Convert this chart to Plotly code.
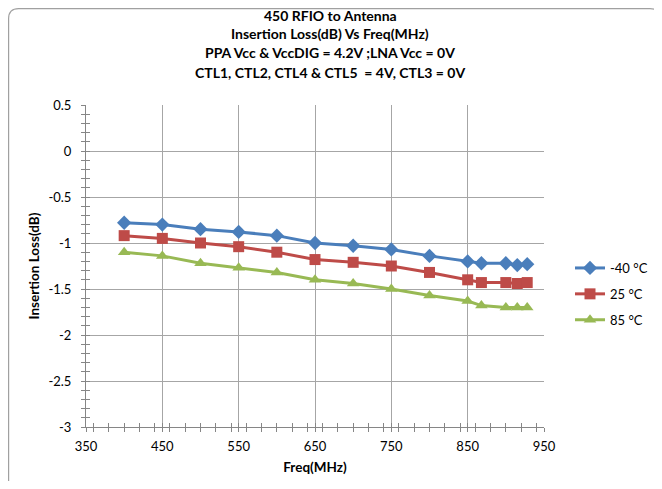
import plotly.graph_objects as go

freq = [400, 450, 500, 550, 600, 650, 700, 750, 800, 850, 868, 900, 915, 928]
loss_m40 = [-0.78, -0.80, -0.85, -0.88, -0.92, -1.00, -1.03, -1.07, -1.14, -1.20, -1.22, -1.22, -1.24, -1.23]
loss_25 = [-0.92, -0.95, -1.00, -1.04, -1.10, -1.18, -1.21, -1.25, -1.32, -1.40, -1.43, -1.43, -1.44, -1.43]
loss_85 = [-1.10, -1.14, -1.22, -1.27, -1.32, -1.40, -1.44, -1.50, -1.57, -1.63, -1.68, -1.70, -1.70, -1.70]
series_names = ["-40 °C", "25 °C", "85 °C"]
title_lines = ["450 RFIO to Antenna",
               "Insertion Loss(dB) Vs Freq(MHz)",
               "PPA Vcc &amp; VccDIG = 4.2V ;LNA Vcc = 0V",
               "CTL1, CTL2, CTL4 &amp; CTL5  = 4V, CTL3 = 0V"]
x_ticks = [350, 450, 550, 650, 750, 850, 950]
y_ticks = [0.5, 0, -0.5, -1, -1.5, -2, -2.5, -3]
y_tick_text = ["0.5", "0", "-0.5", "-1", "-1.5", "-2", "-2.5", "-3"]

# page body has an 8px margin, so the figure is laid out in page coordinates minus 8
OFF = 8
W, H = 654, 473
ML, MR, MT, MB = 86 - OFF, W - (544 - OFF), 105 - OFF, H - (427 - OFF)
PW, PH = W - ML - MR, H - MT - MB
FONT = "Lato, Carlito, 'Open Sans', sans-serif"

def px2x(px):  # page pixel -> paper x
    return (px - OFF - ML) / PW

def py2y(py):  # page pixel -> paper y
    return (H - MB - (py - OFF)) / PH

colors = ["#4A7EBB", "#BE4B48", "#98B954"]
symbols = ["diamond", "square", "triangle-up"]
sizes = [11, 11, 11]

fig = go.Figure()
for i, (name, ys) in enumerate(zip(series_names, [loss_m40, loss_25, loss_85])):
    fig.add_trace(go.Scatter(
        x=freq, y=ys, name=name, mode="lines+markers",
        line=dict(color=colors[i], width=3),
        marker=dict(symbol=symbols[i], size=sizes[i], color=colors[i]),
        legendgroup=str(i),
    ))

axis_common = dict(showline=True, linecolor="#868686", linewidth=1,
                   tickfont=dict(family=FONT, size=13, color="#000"),
                   zeroline=False, automargin=False)

fig.update_layout(
    width=W, height=H,
    margin=dict(l=ML, r=MR, t=MT, b=MB, autoexpand=False),
    paper_bgcolor="white", plot_bgcolor="white",
    font=dict(family=FONT, size=13, color="#000"),
    showlegend=True,
    legend=dict(x=px2x(570), y=py2y(253), xanchor="left", yanchor="top",
                font=dict(family=FONT, size=13, color="#000"),
                itemwidth=30, tracegroupgap=6, bgcolor="rgba(0,0,0,0)"),
    xaxis=dict(range=[350, 950], tickvals=x_ticks, ticks="outside", ticklen=4,
               tickcolor="#868686", showgrid=True, gridcolor="#A6A6A6", gridwidth=1,
               ticklabelstandoff=3,
               minor=dict(dtick=20, ticks="outside", ticklen=4, tickcolor="#868686", showgrid=False),
               title=dict(text="<b>Freq(MHz)</b>", font=dict(family=FONT, size=13.5), standoff=9),
               **axis_common),
    yaxis=dict(range=[-3, 0.5], tickvals=y_ticks, ticktext=y_tick_text, ticks="outside", ticklen=4,
               tickcolor="#868686", showgrid=True, gridcolor="#A6A6A6", gridwidth=1,
               ticklabelstandoff=7,
               minor=dict(dtick=0.1, ticks="outside", ticklen=4, tickcolor="#868686", showgrid=False),
               title=dict(text="<b>Insertion Loss(dB)</b>", font=dict(family=FONT, size=13.5), standoff=5),
               **axis_common),
    xaxis2=dict(range=[350, 950], overlaying="x", tickvals=x_ticks, ticks="inside", ticklen=4,
                tickcolor="#868686", showticklabels=False, showgrid=False, zeroline=False,
                minor=dict(dtick=20, ticks="inside", ticklen=4, tickcolor="#868686"),
                side="bottom", anchor="y2", automargin=False),
    yaxis2=dict(range=[-3, 0.5], overlaying="y", tickvals=y_ticks, ticks="inside", ticklen=4,
                tickcolor="#868686", showticklabels=False, showgrid=False, zeroline=False,
                minor=dict(dtick=0.1, ticks="inside", ticklen=4, tickcolor="#868686"),
                side="left", anchor="x2", automargin=False),
)

fig.add_trace(go.Scatter(x=[None], y=[None], xaxis="x2", yaxis="y2",
                         showlegend=False, hoverinfo="skip"))

title_y = [15, 34, 53, 72]
for txt, ty in zip(title_lines, title_y):
    fig.add_annotation(text="<b>" + txt + "</b>", x=px2x(330), y=py2y(ty),
                       xref="paper", yref="paper", xanchor="center", yanchor="middle",
                       showarrow=False, font=dict(family=FONT, size=14, color="#000"))

# outer rounded border (clamped to the figure area)
x0, y0, x1, y1, r = px2x(8.6), py2y(8.6), px2x(660), py2y(493), 10
rx, ry = r / PW, r / PH
path = (f"M {x0+rx},{y0} L {x1-rx},{y0} Q {x1},{y0} {x1},{y0-ry} "
        f"L {x1},{y1+ry} Q {x1},{y1} {x1-rx},{y1} L {x0+rx},{y1} Q {x0},{y1} {x0},{y1+ry} "
        f"L {x0},{y0-ry} Q {x0},{y0} {x0+rx},{y0} Z")
fig.add_shape(type="path", path=path, xref="paper", yref="paper",
              line=dict(color="#A0A0A0", width=1.2), layer="below")

fig.write_html("out.html")
